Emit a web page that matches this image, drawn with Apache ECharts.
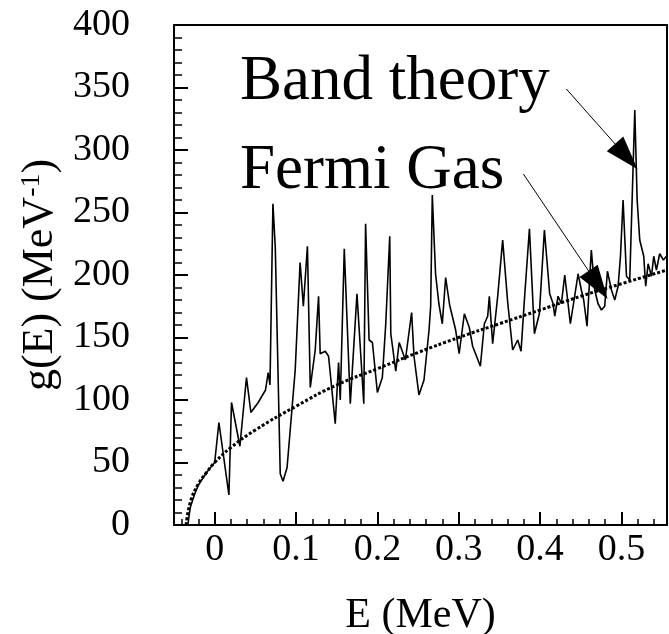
<!DOCTYPE html>
<html>
<head>
<meta charset="utf-8">
<script src="https://cdn.jsdelivr.net/npm/echarts@6/dist/echarts.min.js"></script>
<style>html,body{margin:0;padding:0;background:#fff}#c{width:669px;height:634px}</style>
</head>
<body>
<div id="c"></div>
<script>
// Band theory spectrum: energy (MeV) and level density g(E) (MeV^-1)
var bandE = [-0.033,-0.03,-0.025,-0.02,-0.01,0.0,0.0052,0.0175,0.0207,0.031,0.0391,0.0445,0.0535,0.0625,0.0658,0.068,0.0716,0.0745,0.0806,0.084,0.089,0.099,0.105,0.109,0.114,0.1175,0.1236,0.1277,0.1297,0.1359,0.14,0.1482,0.1523,0.1544,0.1593,0.1667,0.1749,0.1769,0.1833,0.1855,0.1898,0.1939,0.2,0.2061,0.2103,0.2152,0.2165,0.2226,0.2268,0.2344,0.2421,0.245,0.2511,0.2573,0.2635,0.2655,0.2675,0.2715,0.2756,0.2798,0.2839,0.2888,0.2962,0.3005,0.3069,0.313,0.3171,0.3266,0.3315,0.3356,0.3376,0.3417,0.3479,0.354,0.3602,0.3663,0.3725,0.3766,0.3807,0.3869,0.393,0.3991,0.4053,0.4118,0.416,0.418,0.4221,0.4262,0.4303,0.4344,0.4372,0.4425,0.4467,0.4507,0.4536,0.4577,0.461,0.463,0.4671,0.4713,0.4754,0.4794,0.4828,0.4877,0.4918,0.4959,0.4988,0.502,0.5062,0.5102,0.5164,0.5193,0.5225,0.5274,0.5298,0.5328,0.5369,0.5397,0.543,0.547,0.5516,0.5553];
var bandG = [0,14,24,32,42,50,82,24,98,63,118,90,98,108,122,112,257,222,41,35,46,124,210,175,223,110,140,183,137,139,135,81,130,100,221,97,185,164,97,241,148,146,106,118,161,231,153,123,146,132,170,135,104,116,156,175,264,201,177,161,198,176,156,137,169,158,143,127,161,167,183,145,183,228,178,140,148,139,180,237,153,169,236,185,177,167,183,177,200,177,161,183,201,188,180,159,198,220,188,177,172,175,203,188,180,191,215,260,199,196,332,260,228,215,191,209,199,215,204,217,212,215];
// Fermi gas curve
var fermiE = [-0.035,-0.03,-0.02,-0.01,0.0,0.02,0.05,0.1,0.15,0.2,0.25,0.3,0.35,0.4,0.45,0.5,0.556];
var fermiG = [0,18,33,42,50,62,76,95,112,125,138,150,161,172,183,193,204];
// Axis settings
var xMin = -0.05, xMax = 0.556;
var yMin = 0, yMax = 400, yStep = 50;
// Annotations
var labelBand = 'Band theory';
var labelFermi = 'Fermi Gas';
var arrowBand = [[0.4323, 348.8], [0.506, 294.7]];
var arrowFermi = [[0.3795, 280.8], [0.4713, 192]];

var bandData = bandE.map(function (e, i) { return [e, bandG[i]]; });
var fermiData = fermiE.map(function (e, i) { return [e, fermiG[i]]; });
var FONT = 'Liberation Serif';
var NOSPLIT = {show: true, lineStyle: {color: 'rgba(0,0,0,0)'}};
var AXLINE = {show: true, onZero: false, lineStyle: {color: '#000', width: 2}};

var chart = echarts.init(document.getElementById('c'), null, {renderer: 'canvas'});
chart.setOption({
  animation: false,
  backgroundColor: '#fff',
  grid: {left: 174, top: 25, width: 493, height: 500, containLabel: false, outerBoundsMode: 'none'},
  xAxis: [{
    type: 'value', min: xMin, max: xMax, splitNumber: 6, position: 'bottom',
    axisLine: AXLINE, splitLine: NOSPLIT,
    axisTick: {show: true, inside: true, length: 13, lineStyle: {color: '#000', width: 2}},
    minorTick: {show: true, splitNumber: 5, length: 6, lineStyle: {color: '#000', width: 1.5}},
    axisLabel: {
      color: '#000', fontFamily: FONT, fontSize: 38, margin: 6,
      formatter: function (v) {
        if (v < -1e-6) return '';
        if (Math.abs(v * 10 - Math.round(v * 10)) > 1e-6) return '';
        return String(Math.round(v * 10) / 10);
      }
    },
    name: 'E (MeV)', nameLocation: 'middle', nameGap: 70,
    nameTextStyle: {color: '#000', fontFamily: FONT, fontSize: 42}
  }, {
    type: 'value', min: xMin, max: xMax, position: 'top',
    axisLine: AXLINE, axisTick: {show: false}, axisLabel: {show: false}, splitLine: NOSPLIT
  }],
  yAxis: [{
    type: 'value', min: yMin, max: yMax, interval: yStep, position: 'left',
    axisLine: AXLINE, splitLine: NOSPLIT,
    axisTick: {show: true, inside: true, length: 14, lineStyle: {color: '#000', width: 2}},
    minorTick: {show: true, splitNumber: 5, length: 8, lineStyle: {color: '#000', width: 1.5}},
    axisLabel: {color: '#000', fontFamily: FONT, fontSize: 38, margin: 44},
    name: '{a|g(E) (MeV}{b|-1}{a|)}', nameLocation: 'middle', nameGap: 110, nameRotate: 90,
    nameTextStyle: {
      color: '#000', fontFamily: FONT, fontSize: 44,
      rich: {
        a: {fontFamily: FONT, fontSize: 44, color: '#000'},
        b: {fontFamily: FONT, fontSize: 28, color: '#000', verticalAlign: 'top', padding: [0, 0, 14, 0]}
      }
    }
  }, {
    type: 'value', min: yMin, max: yMax, interval: yStep, position: 'right',
    axisLine: AXLINE, axisTick: {show: false}, axisLabel: {show: false}, splitLine: NOSPLIT
  }],
  series: [
    {
      type: 'line', data: bandData, showSymbol: false, symbol: 'none',
      lineStyle: {color: '#000', width: 1.6}, z: 3
    },
    {
      type: 'line', data: fermiData, showSymbol: false, symbol: 'none', smooth: true,
      lineStyle: {color: '#000', width: 3, type: [3, 2]}, z: 4,
      markLine: {
        silent: true, animation: false,
        symbol: ['none', 'triangle'], symbolSize: [22, 34],
        label: {show: false},
        lineStyle: {color: '#000', width: 1, type: 'solid'},
        data: [
          [{coord: arrowBand[0]}, {coord: arrowBand[1]}],
          [{coord: arrowFermi[0]}, {coord: arrowFermi[1]}]
        ]
      }
    }
  ],
  graphic: [
    {type: 'text', left: 240, top: 83 - 32, style: {text: labelBand, font: '63px "Liberation Serif"', fill: '#000'}},
    {type: 'text', left: 240, top: 172 - 32, style: {text: labelFermi, font: '63px "Liberation Serif"', fill: '#000'}}
  ]
});
</script>
</body>
</html>
